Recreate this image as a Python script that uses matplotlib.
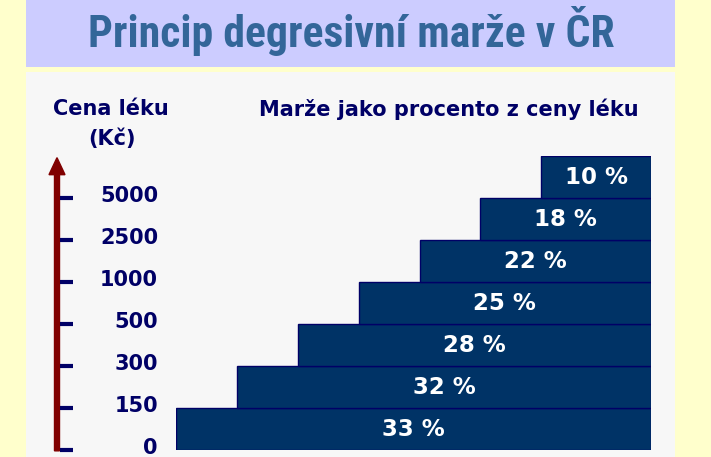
import matplotlib.pyplot as plt
from matplotlib.patches import Rectangle

# price thresholds (Kč) at the bottom of each step, margins per step
price_labels = ['0', '150', '300', '500', '1000', '2500', '5000']
margins = [33, 32, 28, 25, 22, 18, 10]
bar_labels = [f'{m} %' for m in margins]

title = 'Princip degresivní marže v ČR'
axis_title = ['Cena léku', '(Kč)']
header = 'Marže jako procento z ceny léku'

NAVY = '#000066'
BAR = '#003366'
W, H = 711, 457

fig = plt.figure(figsize=(W / 100, H / 100), dpi=100)
fig.patch.set_facecolor('#FFFFCC')


def fx(px):
    return px / W


def fy(py):
    return 1 - py / H


# title band and grey panel (behind the axes)
fig.patches.append(Rectangle((fx(26), fy(67)), fx(675) - fx(26), fy(0) - fy(67),
                             transform=fig.transFigure, facecolor='#CCCCFF',
                             edgecolor='none', zorder=-2))
fig.patches.append(Rectangle((fx(26), 0), fx(675) - fx(26), fy(72),
                             transform=fig.transFigure, facecolor='#F7F7F7',
                             edgecolor='none', zorder=-2))

fig.text(fx(351), fy(31), title, ha='center', va='center', fontsize=31.5,
         fontweight='bold', color='#336699',
         family=['DejaVu Sans Condensed', 'Roboto Condensed', 'Roboto'])

fig.text(fx(111), fy(109), axis_title[0], ha='center', va='center',
         fontsize=15, fontweight='bold', color=NAVY)
fig.text(fx(112), fy(139), axis_title[1], ha='center', va='center',
         fontsize=15, fontweight='bold', color=NAVY)
fig.text(fx(449), fy(109), header, ha='center', va='center',
         fontsize=15, fontweight='bold', color=NAVY)

# staircase of bars
ax = fig.add_axes([fx(176), fy(450), fx(651) - fx(176), fy(156) - fy(450)])
right_end = 7.8
ax.set_xlim(0, right_end)
ax.set_ylim(0, len(margins))
ax.axis('off')

rows = list(range(len(margins)))
ax.barh(rows, [right_end - i for i in rows], left=rows, height=1, align='edge',
        color=BAR, edgecolor=NAVY, linewidth=1)
for i, lab in zip(rows, bar_labels):
    ax.text((i + right_end) / 2, i + 0.5, lab, ha='center', va='center',
            fontsize=16.5, fontweight='bold', color='white')

unit = (651 - 176) / right_end  # pixels per x unit


def px2x(px):
    return (px - 176) / unit


# price axis: arrow, ticks, labels
ax.arrow(px2x(57), -0.02, 0, len(margins) - 0.02, width=5 / unit,
         head_width=16 / unit, head_length=17 / 42, length_includes_head=True,
         color='#800000', clip_on=False)
ax.hlines(rows, px2x(60), px2x(73), color=NAVY, lw=3, clip_on=False)
for i, lab in zip(rows, price_labels):
    ax.text(px2x(158), i + 0.05, lab, ha='right', va='center', fontsize=15,
            fontweight='bold', color=NAVY, clip_on=False)

plt.savefig('out.png', dpi=100, facecolor=fig.get_facecolor())
